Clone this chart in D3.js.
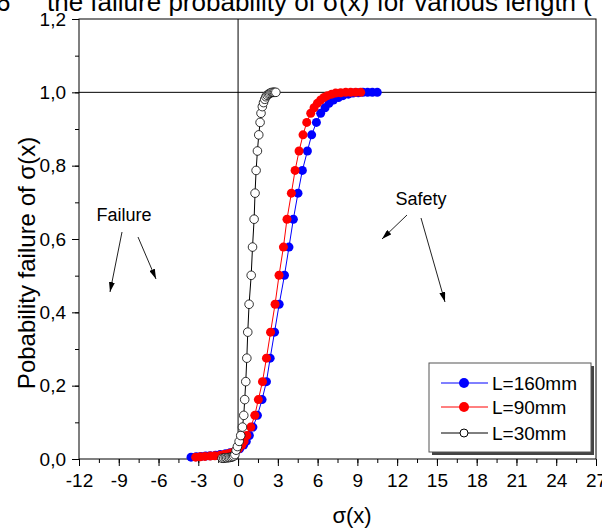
<!doctype html>
<html>
<head>
<meta charset="utf-8">
<script src="https://d3js.org/d3.v7.min.js"></script>
<style>
body { margin: 0; background: #fff; }
text { font-family: Arial, "Liberation Sans", sans-serif; fill: #000; }
</style>
</head>
<body>
<svg width="602" height="528"></svg>
<script>
var probs = [0.005, 0.006, 0.007, 0.008, 0.009, 0.010, 0.012, 0.014, 0.017, 0.021,
             0.028, 0.038, 0.048, 0.064, 0.087, 0.119, 0.162, 0.211, 0.275, 0.346,
             0.422, 0.501, 0.578, 0.654, 0.725, 0.787, 0.840, 0.884, 0.918, 0.943,
             0.958, 0.970, 0.979, 0.986, 0.991, 0.995, 0.998, 0.999, 1.0, 1.0,
             1.0, 1.0];
// L=160mm
var sigma160 = [-3.55, -3.15, -2.8, -2.45, -2.1, -1.7, -1.35, -0.95, -0.6, -0.2,
                0.12, 0.42, 0.62, 0.85, 1.12, 1.46, 1.81, 2.14, 2.42, 2.75,
                3.1, 3.5, 3.84, 4.17, 4.52, 4.85, 5.23, 5.55, 5.91, 6.23,
                6.56, 6.86, 7.19, 7.57, 7.91, 8.32, 8.67, 9.07, 9.42, 9.77,
                10.13, 10.5];
// L=90mm
var sigma90 = [-3.2, -2.85, -2.5, -2.1, -1.75, -1.35, -1.05, -0.75, -0.48, -0.22,
               0.03, 0.28, 0.45, 0.66, 0.96, 1.26, 1.53, 1.84, 2.14, 2.45,
               2.79, 3.09, 3.42, 3.69, 4.02, 4.30, 4.60, 4.90, 5.18, 5.48,
               5.73, 5.98, 6.23, 6.48, 6.74, 7.06, 7.36, 7.74, 8.12, 8.49,
               8.87, 9.25];
// L=30mm
var sigma30 = [-1.2, -1.08, -0.96, -0.85, -0.74, -0.63, -0.52, -0.42, -0.33, -0.24,
               -0.15, -0.05, 0.08, 0.20, 0.33, 0.43, 0.50, 0.58, 0.66, 0.73,
               0.83, 0.99, 1.09, 1.21, 1.28, 1.36, 1.46, 1.56, 1.66, 1.73,
               1.83, 1.92, 2.01, 2.10, 2.19, 2.29, 2.38, 2.48, 2.57, 2.66,
               2.75, 2.85];
var probs30 = [0.002, 0.002, 0.003, 0.003, 0.004, 0.004, 0.005, 0.006, 0.008, 0.012,
               0.024, 0.034, 0.048, 0.064, 0.087, 0.119, 0.162, 0.211, 0.275, 0.346,
               0.422, 0.501, 0.578, 0.654, 0.725, 0.787, 0.840, 0.884, 0.918, 0.943,
               0.961, 0.972, 0.981, 0.988, 0.992, 0.995, 0.997, 0.999, 1.0, 1.0,
               1.0, 1.0];

var xTicks = [-12, -9, -6, -3, 0, 3, 6, 9, 12, 15, 18, 21, 24, 27];
var yTicks = [0, 0.2, 0.4, 0.6, 0.8, 1.0, 1.2];
var legendNames = ["L=160mm", "L=90mm", "L=30mm"];

var svg = d3.select("svg");

var x = d3.scaleLinear().domain([-12, 27]).range([79, 596]);
var y = d3.scaleLinear().domain([0, 1.2]).range([459, 19]);

// caption remnant cut off at the top
var cap = svg.append("text").attr("y", 11).attr("font-size", "26px");
cap.append("tspan").attr("x", -4).text("6");
cap.append("tspan").attr("x", 47).text("the failure probability of \u03c3(x) for various length (");

// minor ticks
var minorX = d3.range(-12, 27.01, 1.5);
var minorY = d3.range(0, 1.201, 0.1);
svg.append("g")
   .attr("transform", "translate(0," + y(0) + ")")
   .call(d3.axisBottom(x).tickValues(minorX).tickSize(4).tickSizeOuter(0).tickFormat(""))
   .select(".domain").remove();
svg.append("g")
   .attr("transform", "translate(" + x(-12) + ",0)")
   .call(d3.axisLeft(y).tickValues(minorY).tickSize(4).tickSizeOuter(0).tickFormat(""))
   .select(".domain").remove();

var xAxis = svg.append("g")
   .attr("transform", "translate(0," + y(0) + ")")
   .call(d3.axisBottom(x).tickValues(xTicks).tickSize(7).tickSizeOuter(0).tickPadding(8)
     .tickFormat(function(d) { return String(d); }));
xAxis.select(".domain").remove();
xAxis.selectAll("text").attr("font-size", "19px").attr("font-family", null);

var yAxis = svg.append("g")
   .attr("transform", "translate(" + x(-12) + ",0)")
   .call(d3.axisLeft(y).tickValues(yTicks).tickSize(7).tickSizeOuter(0).tickPadding(6)
     .tickFormat(function(d) { return d3.format(".1f")(d).replace(".", ","); }));
yAxis.select(".domain").remove();
yAxis.selectAll("text").attr("font-size", "19px").attr("font-family", null);

// frame
svg.append("rect")
   .attr("x", x(-12)).attr("y", y(1.2))
   .attr("width", x(27) - x(-12)).attr("height", y(0) - y(1.2))
   .attr("fill", "none").attr("stroke", "#000");

// reference lines at sigma = 0 and P = 1
svg.append("line")
   .attr("x1", x(0)).attr("x2", x(0)).attr("y1", y(1.2)).attr("y2", y(0))
   .attr("stroke", "#000");
svg.append("line")
   .attr("x1", x(-12)).attr("x2", x(27)).attr("y1", y(1)).attr("y2", y(1))
   .attr("stroke", "#000");

// axis titles
svg.append("text")
   .attr("transform", "translate(35," + 263 + ") rotate(-90)")
   .attr("text-anchor", "middle").attr("font-size", "24px")
   .text("Pobability failure of \u03c3(x)");
svg.append("text")
   .attr("x", 352).attr("y", 523).attr("text-anchor", "middle").attr("font-size", "22px")
   .text("\u03c3(x)");

// series
var series = [
  { xs: sigma160, ps: probs, color: "#0000ff", fill: "#0000ff" },
  { xs: sigma90, ps: probs, color: "#ff0000", fill: "#ff0000" },
  { xs: sigma30, ps: probs30, color: "#000", fill: "#fff" }
];
var line = d3.line().x(function(d) { return x(d[0]); }).y(function(d) { return y(d[1]); });

series.forEach(function(s) {
  var pts = s.xs.map(function(v, i) { return [v, s.ps[i]]; });
  svg.append("path").datum(pts)
     .attr("d", line).attr("fill", "none").attr("stroke", s.color).attr("stroke-width", 1);
  svg.append("g").selectAll("circle")
     .data(pts).enter().append("circle")
     .attr("cx", function(d) { return x(d[0]); })
     .attr("cy", function(d) { return y(d[1]); })
     .attr("r", s.fill === "#fff" ? 4.3 : 4.5)
     .attr("fill", s.fill)
     .attr("stroke", s.fill === "#fff" ? "#000" : "none")
     .attr("stroke-width", 0.8);
});

// annotations
var defs = svg.append("defs");
defs.append("marker").attr("id", "ah")
    .attr("viewBox", "0 0 10 6").attr("refX", 10).attr("refY", 3)
    .attr("markerWidth", 10).attr("markerHeight", 6).attr("orient", "auto")
    .attr("markerUnits", "userSpaceOnUse")
    .append("path").attr("d", "M0,0L10,3L0,6Z").attr("fill", "#000");

svg.append("text").attr("x", 124).attr("y", 221).attr("text-anchor", "middle")
   .attr("font-size", "18px").text("Failure");
svg.append("text").attr("x", 421).attr("y", 205).attr("text-anchor", "middle")
   .attr("font-size", "18px").text("Safety");

var arrows = [[122, 232, 110, 292], [138, 237, 156, 279], [407, 215, 382, 239], [421, 218, 445, 302]];
arrows.forEach(function(a) {
  svg.append("line").attr("x1", a[0]).attr("y1", a[1]).attr("x2", a[2]).attr("y2", a[3])
     .attr("stroke", "#222").attr("stroke-width", 1).attr("marker-end", "url(#ah)");
});

// legend
var lg = svg.append("g");
lg.append("rect").attr("x", 432).attr("y", 366).attr("width", 162).attr("height", 89).attr("fill", "#444");
lg.append("rect").attr("x", 429).attr("y", 363).attr("width", 162).attr("height", 89)
  .attr("fill", "#fff").attr("stroke", "#555");
var rows = [383, 407, 433];
series.forEach(function(s, i) {
  lg.append("line").attr("x1", 441).attr("x2", 488).attr("y1", rows[i]).attr("y2", rows[i])
    .attr("stroke", s.color);
  lg.append("circle").attr("cx", 464).attr("cy", rows[i])
    .attr("r", s.fill === "#fff" ? 4 : 5)
    .attr("fill", s.fill).attr("stroke", s.fill === "#fff" ? "#000" : "none");
  lg.append("text").attr("x", 492).attr("y", rows[i] + 7).attr("font-size", "19px")
    .text(legendNames[i]);
});
</script>
</body>
</html>
